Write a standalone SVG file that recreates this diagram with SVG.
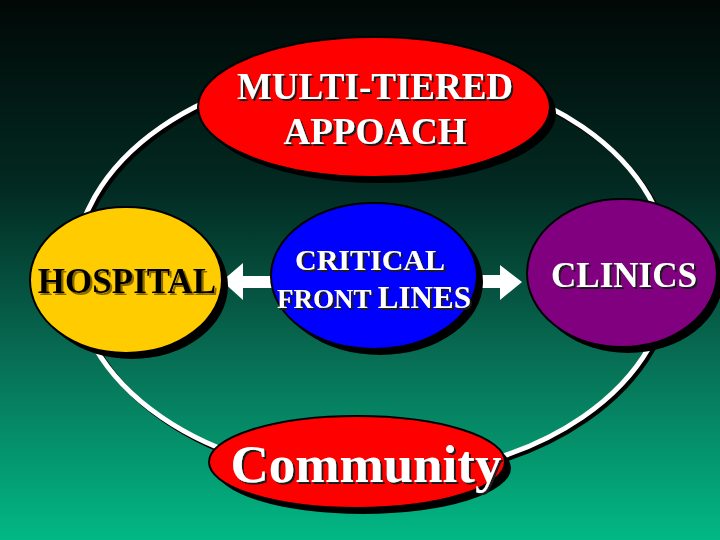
<svg xmlns="http://www.w3.org/2000/svg" width="720" height="540" viewBox="0 0 720 540">
  <defs>
    <linearGradient id="bg" x1="0" y1="0" x2="0" y2="1">
      <stop offset="0" stop-color="#010806"/>
      <stop offset="0.35" stop-color="#022a22"/>
      <stop offset="0.65" stop-color="#076b52"/>
      <stop offset="1" stop-color="#02b884"/>
    </linearGradient>
    <filter id="tsd" x="-10%" y="-20%" width="120%" height="150%">
      <feDropShadow dx="2" dy="2" stdDeviation="0" flood-color="#1a1a1a" flood-opacity="1"/>
    </filter>
    <filter id="tsy" x="-10%" y="-20%" width="120%" height="150%">
      <feDropShadow dx="2" dy="2" stdDeviation="0" flood-color="#8a6a00" flood-opacity="1"/>
    </filter>
  </defs>
  <style>
    .shadow { fill: #000; }
    .node { stroke: #000; stroke-width: 2; }
    .lbl { font-family: "Liberation Serif", "Times New Roman", serif; font-weight: bold; text-anchor: middle; }
    .w { fill: #fff; filter: url(#tsd); }
    .b { fill: #000; filter: url(#tsy); }
    .ring { fill: none; stroke-width: 5; }
    .arrow { fill: #fff; }
  </style>
  <rect x="0" y="0" width="720" height="540" fill="url(#bg)"/>

  <g id="connectors">
    <ellipse class="ring" cx="375" cy="275" rx="298" ry="205" stroke="#000"/>
    <ellipse class="ring" cx="372" cy="272" rx="298" ry="205" stroke="#fff"/>
    <polygon class="arrow" points="272,276 243,276 243,263 222,281 243,300 243,288 272,288"/>
    <polygon class="arrow" points="473,275 500,275 500,265 522,282 500,300 500,288 473,288"/>
  </g>

  <g id="node-multi-tiered">
    <ellipse class="shadow" cx="380" cy="113" rx="176" ry="70"/>
    <ellipse class="node" cx="374" cy="107" rx="176" ry="70" fill="#ff0000"/>
    <text class="lbl w" x="375" y="99" font-size="37">MULTI-TIERED</text>
    <text class="lbl w" x="375" y="144" font-size="37">APPOACH</text>
  </g>

  <g id="node-hospital">
    <ellipse class="shadow" cx="132" cy="286" rx="96" ry="73"/>
    <ellipse class="node" cx="126" cy="280" rx="96" ry="73" fill="#ffcc00"/>
    <text class="lbl b" x="127" y="293" font-size="35">HOSPITAL</text>
  </g>

  <g id="node-critical">
    <ellipse class="shadow" cx="380" cy="282" rx="103" ry="73"/>
    <ellipse class="node" cx="374" cy="276" rx="103" ry="73" fill="#0000ff"/>
    <text class="lbl w" x="370" y="270" font-size="30">CRITICAL</text>
    <text class="lbl w" x="374" y="308" font-size="27"><tspan>FRONT </tspan><tspan font-size="31">LINES</tspan></text>
  </g>

  <g id="node-clinics">
    <ellipse class="shadow" cx="628" cy="279" rx="95" ry="74"/>
    <ellipse class="node" cx="622" cy="273" rx="95" ry="74" fill="#800080"/>
    <text class="lbl w" x="624" y="287" font-size="35">CLINICS</text>
  </g>

  <g id="node-community">
    <ellipse class="shadow" cx="363" cy="468" rx="148" ry="46"/>
    <ellipse class="node" cx="357" cy="462" rx="148" ry="46" fill="#ff0000"/>
    <text class="lbl w" x="366" y="482" font-size="53">Community</text>
  </g>
</svg>
